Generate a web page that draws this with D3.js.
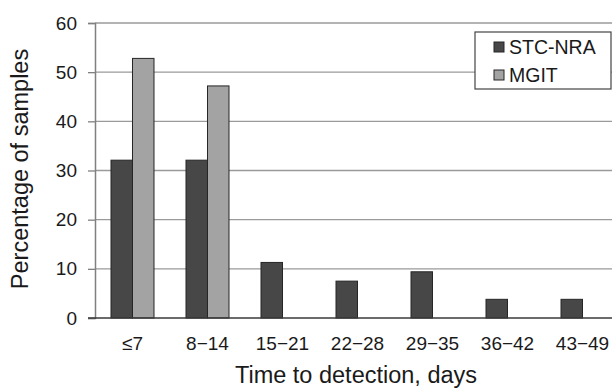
<!DOCTYPE html>
<html>
<head>
<meta charset="utf-8">
<script src="https://cdn.jsdelivr.net/npm/d3@7"></script>
<style>
  body { margin: 0; background: #fff; }
  svg text { font-family: "Liberation Sans", Arial, sans-serif; fill: #1a1a1a; }
</style>
</head>
<body>
<svg id="chart" width="612" height="389"></svg>
<script>
// data
const categories = ["≤7", "8−14", "15−21", "22−28", "29−35", "36−42", "43−49"];
const seriesNames = ["STC-NRA", "MGIT"];
const stcNra = [32.1, 32.1, 11.3, 7.5, 9.4, 3.8, 3.8];
const mgit = [52.8, 47.2, 0, 0, 0, 0, 0];
const yTicks = [0, 10, 20, 30, 40, 50, 60];

const colors = ["#474747", "#a3a3a3"];

const plotLeft = 95, plotRight = 620, plotTop = 23, plotBottom = 318;
const svg = d3.select("#chart");

const x0 = d3.scaleBand().domain(categories).range([plotLeft, plotRight])
  .paddingInner(0.4267).paddingOuter(0.2133);
const x1 = d3.scaleBand().domain(seriesNames).range([0, x0.bandwidth()]);
const y = d3.scaleLinear().domain([0, 60]).range([plotBottom, plotTop]);

// gridlines
svg.append("g")
  .selectAll("line")
  .data(yTicks.filter(d => d > 0))
  .join("line")
  .attr("x1", plotLeft).attr("x2", 612)
  .attr("y1", d => y(d)).attr("y2", d => y(d))
  .attr("stroke", "#9a9a9a")
  .attr("stroke-width", 1.3);

// y axis
const yAxis = svg.append("g")
  .attr("transform", "translate(" + plotLeft + ",0)")
  .call(d3.axisLeft(y).tickValues(yTicks).tickSize(7).tickPadding(11));
yAxis.select(".domain").attr("stroke", "#808080").attr("stroke-width", 1.5);
yAxis.selectAll(".tick line").attr("stroke", "#808080").attr("stroke-width", 1.3);
yAxis.selectAll(".tick text").style("font-size", "19px").attr("fill", "#1a1a1a");

// bars
const rows = categories.map((c, i) => ({ cat: c, vals: [stcNra[i], mgit[i]] }));
svg.append("g")
  .selectAll("g")
  .data(rows)
  .join("g")
  .attr("transform", d => "translate(" + x0(d.cat) + ",0)")
  .selectAll("rect")
  .data(d => d.vals.map((v, k) => ({ key: seriesNames[k], v: v, k: k })).filter(e => e.v > 0))
  .join("rect")
  .attr("x", d => x1(d.key))
  .attr("width", x1.bandwidth())
  .attr("y", d => y(d.v))
  .attr("height", d => y(0) - y(d.v))
  .attr("fill", d => colors[d.k])
  .attr("stroke", "#262626")
  .attr("stroke-width", 1);

// x baseline
svg.append("line")
  .attr("x1", plotLeft - 7).attr("x2", 612)
  .attr("y1", y(0)).attr("y2", y(0))
  .attr("stroke", "#3a3a3a").attr("stroke-width", 1.5);

// x labels
svg.append("g")
  .selectAll("text")
  .data(categories)
  .join("text")
  .attr("x", d => x0(d) + x0.bandwidth() / 2)
  .attr("y", 350)
  .attr("text-anchor", "middle")
  .style("font-size", "19px")
  .text(d => d);

// axis titles
svg.append("text")
  .attr("x", 356).attr("y", 383)
  .attr("text-anchor", "middle")
  .style("font-size", "23.5px")
  .text("Time to detection, days");

svg.append("text")
  .attr("transform", "translate(28," + 169 + ")rotate(-90)")
  .attr("text-anchor", "middle")
  .style("font-size", "23.5px")
  .text("Percentage of samples");

// legend
const legend = svg.append("g");
legend.append("rect")
  .attr("x", 475).attr("y", 32).attr("width", 136).attr("height", 57)
  .attr("fill", "#fff").attr("stroke", "#444").attr("stroke-width", 1.2);

seriesNames.forEach((name, i) => {
  legend.append("rect")
    .attr("x", 494).attr("y", 42 + i * 28).attr("width", 10).attr("height", 10)
    .attr("fill", colors[i]).attr("stroke", "#262626").attr("stroke-width", 1);
  legend.append("text")
    .attr("x", 509).attr("y", 54 + i * 28)
    .style("font-size", "19.5px")
    .text(name);
});
</script>
</body>
</html>
